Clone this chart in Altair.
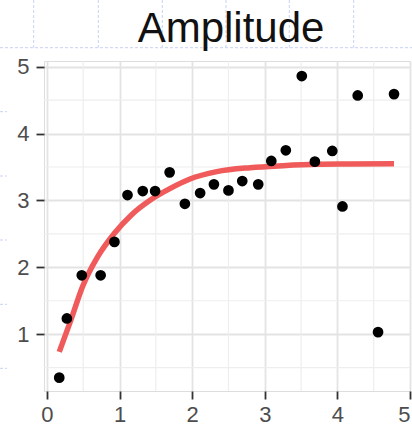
import altair as alt
import pandas as pd

# Scatter points
px = [0.17, 0.275, 0.48, 0.74, 0.93, 1.11, 1.32, 1.49, 1.69, 1.90, 2.11, 2.30,
      2.50, 2.69, 2.91, 3.09, 3.29, 3.51, 3.69, 3.93, 4.07, 4.28, 4.56, 4.78]
py = [0.35, 1.235, 1.88, 1.88, 2.38, 3.08, 3.14, 3.14, 3.42, 2.95, 3.11, 3.24,
      3.15, 3.29, 3.24, 3.59, 3.75, 4.86, 3.58, 3.74, 2.91, 4.57, 1.03, 4.59]

# Fitted curve
cx = [0.17, 0.33, 0.49, 0.70, 0.93, 1.16, 1.43, 1.70, 1.97, 2.34, 2.80, 3.25, 3.71, 4.17, 4.78]
cy = [0.735, 1.21, 1.71, 2.16, 2.51, 2.78, 3.01, 3.18, 3.32, 3.43, 3.49, 3.52, 3.54, 3.545, 3.55]

x_major = [0, 1, 2, 3, 4, 5]
y_major = [1, 2, 3, 4, 5]
minor = [0.5, 1.5, 2.5, 3.5, 4.5]
title_text = ["Amplitude"]

pts = pd.DataFrame({"x": px, "y": py})
curve = pd.DataFrame({"x": cx, "y": cy})
vminor = pd.DataFrame({"v": minor})
tdf = pd.DataFrame({"t": title_text})

xs = alt.Scale(domain=[-0.04, 5.0], nice=False, zero=False)
ys = alt.Scale(domain=[0.15, 5.085], nice=False, zero=False)

axis_common = dict(
    grid=True, gridColor="#E3E3E3", gridWidth=1.8, format="d",
    domain=False, tickColor="#333333", tickWidth=1.8, tickSize=8,
    labelColor="#4D4D4D", labelFont="Liberation Sans", labelFontSize=22,
    title=None,
)

xminor_rules = alt.Chart(vminor).mark_rule(color="#EEEEEE", strokeWidth=1.2).encode(
    x=alt.X("v:Q", scale=xs, axis=alt.Axis(values=x_major, labelPadding=5, **axis_common))
)
yminor_rules = alt.Chart(vminor).transform_filter("datum.v > 0.2").mark_rule(color="#EEEEEE", strokeWidth=1.2).encode(
    y=alt.Y("v:Q", scale=ys, axis=alt.Axis(values=y_major, labelPadding=7, **axis_common))
)

line = alt.Chart(curve).mark_line(color="#F05A5A", strokeWidth=5.5, interpolate="monotone", strokeCap="butt").encode(
    x=alt.X("x:Q", scale=xs), y=alt.Y("y:Q", scale=ys)
)
dots = alt.Chart(pts).mark_circle(color="black", opacity=1, size=115).encode(
    x=alt.X("x:Q", scale=xs), y=alt.Y("y:Q", scale=ys)
)
title = alt.Chart(tdf).mark_text(font="Liberation Sans", fontSize=42, color="#111111",
                                  align="center", baseline="alphabetic").encode(
    text="t:N", x=alt.value(187), y=alt.value(-19)
)

# faint dashed slide-background decoration
deco_style = dict(color="#C9D3F2", strokeWidth=1, strokeDash=[3, 2])
deco = []
deco.append(alt.Chart(tdf).mark_rule(**deco_style).encode(
    x=alt.value(-44), x2=alt.value(368), y=alt.value(-13.3)))
for vx in [-10.3, 54.3, 118.3, 182, 245.3, 309.7]:
    deco.append(alt.Chart(tdf).mark_rule(**deco_style).encode(
        x=alt.value(vx), y=alt.value(-61), y2=alt.value(-13.3)))
for hy in [50.7, 115, 179, 243.3, 307.3]:
    deco.append(alt.Chart(tdf).mark_rule(**deco_style).encode(
        x=alt.value(-44), x2=alt.value(-37), y=alt.value(hy)))

chart = alt.layer(*deco, xminor_rules, yminor_rules, line, dots, title).properties(
    width=366, height=330,
    padding={"left": 44, "top": 61, "right": 2, "bottom": 37},
    autosize="none",
).configure_view(stroke="#333333", strokeWidth=1.6).configure(background="white")

chart.save("out.html", embed_options={"renderer": "svg", "actions": False})
